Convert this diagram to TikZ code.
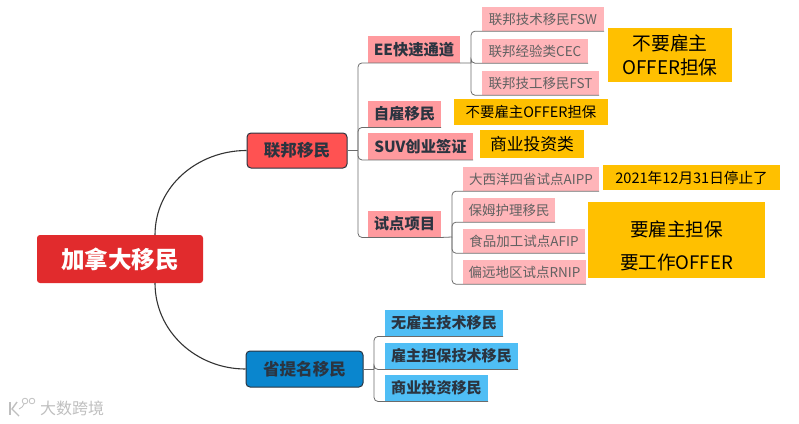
\documentclass[tikz,border=0pt]{standalone}
\usepackage{fontspec}
\setmainfont{Noto Sans CJK SC}
\definecolor{rootred}{HTML}{E12B2D}
\definecolor{fedred}{HTML}{FF5252}
\definecolor{provblue}{HTML}{0A86CE}
\definecolor{pinktwo}{HTML}{FF9A9E}
\definecolor{pinkthree}{HTML}{FFB5B9}
\definecolor{skyleaf}{HTML}{4FBEF5}
\definecolor{noteyellow}{HTML}{FFC000}
\definecolor{inkdark}{HTML}{2B3440}
\tikzset{
  rootbox/.style={fill=rootred, rounded corners=3pt, inner sep=0pt, text=white},
  topicbox/.style={draw=inkdark, line width=1pt, rounded corners=4pt, inner sep=0pt, text=inkdark},
  subbox/.style={fill=pinktwo, inner sep=0pt, text=inkdark, minimum height=26.5},
  leafbox/.style={fill=pinkthree, inner sep=0pt, text=black!62, minimum height=24},
  skybox/.style={fill=skyleaf, inner sep=0pt, text=inkdark, minimum height=26.5},
  notebox/.style={fill=noteyellow, inner sep=0pt, text=black, align=center},
  bigcurve/.style={draw=black!80, line width=1.1pt},
  branch/.style={draw=black!58, line width=0.8pt, rounded corners=4pt}
}
\begin{document}
\begin{tikzpicture}[x=1pt, y=-1pt]
  \useasboundingbox (0,0) rectangle (799,423);

  % 中心主题
  \node[rootbox, minimum width=166, minimum height=48] (root) at (120,259) {{\fontsize{23.6}{27}\selectfont\bfseries 加拿大移民}};
  \coordinate (rootup) at (155,235);
  \coordinate (rootdown) at (155,283);

  % 两个分支
  \node[topicbox, fill=fedred, minimum width=100, minimum height=35] (federal) at (297,150.5) {{\fontsize{16.6}{19}\selectfont\bfseries 联邦移民}};
  \node[topicbox, fill=provblue, minimum width=117, minimum height=36] (province) at (304.5,369) {{\fontsize{16.6}{19}\selectfont\bfseries 省提名移民}};
  \draw[bigcurve] (rootup) to[out=90, in=180] (federal.west);
  \draw[bigcurve] (rootdown) to[out=-90, in=180] (province.west);

  % 联邦移民下的四项
  \node[subbox, minimum width=92] (express) at (414,49.5) {{\fontsize{15.3}{18}\selectfont\bfseries EE快速通道}};
  \node[subbox, minimum width=73] (selfjob) at (404.5,114) {{\fontsize{15.3}{18}\selectfont\bfseries 自雇移民}};
  \node[subbox, minimum width=105] (startup) at (420.5,146.5) {{\fontsize{15.3}{18}\selectfont\bfseries SUV创业签证}};
  \node[subbox, minimum width=73] (pilot) at (404.5,224) {{\fontsize{15.3}{18}\selectfont\bfseries 试点项目}};

  % EE 的三项
  \node[leafbox, minimum width=122] (fsw) at (543,19) {{\fontsize{13.5}{16}\selectfont 联邦技术移民FSW}};
  \node[leafbox, minimum width=106] (cec) at (535,51) {{\fontsize{13.5}{16}\selectfont 联邦经验类CEC}};
  \node[leafbox, minimum width=117] (fst) at (540.5,83) {{\fontsize{13.5}{16}\selectfont 联邦技工移民FST}};

  % 试点项目的四项
  \node[leafbox, minimum width=136] (aipp) at (531,179) {{\fontsize{13.5}{16}\selectfont 大西洋四省试点AIPP}};
  \node[leafbox, minimum width=92] (nanny) at (509,210) {{\fontsize{13.5}{16}\selectfont 保姆护理移民}};
  \node[leafbox, minimum width=122] (afip) at (524,241) {{\fontsize{13.5}{16}\selectfont 食品加工试点AFIP}};
  \node[leafbox, minimum width=123] (rnip) at (524.5,272) {{\fontsize{13.5}{16}\selectfont 偏远地区试点RNIP}};

  % 省提名的三项
  \node[skybox, minimum width=118] (nojob) at (444,323) {{\fontsize{15.1}{18}\selectfont\bfseries 无雇主技术移民}};
  \node[skybox, minimum width=133] (employer) at (451.5,356) {{\fontsize{15.1}{18}\selectfont\bfseries 雇主担保技术移民}};
  \node[skybox, minimum width=103] (invest) at (436.5,388) {{\fontsize{15.1}{18}\selectfont\bfseries 商业投资移民}};

  % 黄色备注
  \node[notebox, minimum width=124, minimum height=54, font=\fontsize{18.8}{24}\selectfont] (noteee) at (670,55) {不要雇主\\OFFER担保};
  \node[notebox, minimum width=154, minimum height=26] (noteself) at (531,112) {{\fontsize{14.4}{17}\selectfont 不要雇主OFFER担保}};
  \node[notebox, minimum width=104, minimum height=28] (notesuv) at (532,144) {{\fontsize{16.8}{20}\selectfont 商业投资类}};
  \node[notebox, minimum width=177, minimum height=25] (noteaipp) at (691.5,177.5) {{\fontsize{14.6}{17}\selectfont 2021年12月31日停止了}};
  \node[notebox, minimum width=177, minimum height=76, font=\fontsize{18.6}{33}\selectfont] (notepilot) at (676.5,240) {\rule{0pt}{28pt}要雇主担保\\要工作OFFER};

  % 括号连线
  \coordinate (fedhub) at (358,150.5);
  \coordinate (exphub) at (471,63);
  \coordinate (pilothub) at (452,237);
  \coordinate (provhub) at (374,369);
  \draw[branch] (federal.east) -- (fedhub);
  \draw[branch] (province.east) -- (provhub);
  \draw[branch] (express.south east) -- (exphub);
  \draw[branch] (pilot.south east) -- (pilothub);
  \foreach \kid in {express, selfjob, startup, pilot}
    \draw[branch] (fedhub) |- (\kid.south east);
  \foreach \kid in {fsw, cec, fst}
    \draw[branch] (exphub) |- (\kid.south east);
  \foreach \kid in {aipp, nanny, afip, rnip}
    \draw[branch] (pilothub) |- (\kid.south east);
  \foreach \kid in {nojob, employer, invest}
    \draw[branch] (provhub) |- (\kid.south east);

  % 水印
  \node[text=black!25, inner sep=0pt] (mark) at (72,408) {{\fontsize{16}{19}\selectfont 大数跨境}};
  \draw[black!25, line width=1.4pt] (10,402) -- (10,415);
  \draw[black!25, line width=1.4pt] (17,402) -- (12,409) -- (19,416);
  \draw[black!25, line width=0.8pt] (19,409) .. controls (22,408) and (23,406) .. (24,404);
  \draw[black!25, line width=0.8pt] (25,401) circle (2.8);
  \draw[black!25, line width=0.8pt] (32,401) circle (2.8);
\end{tikzpicture}
\end{document}
